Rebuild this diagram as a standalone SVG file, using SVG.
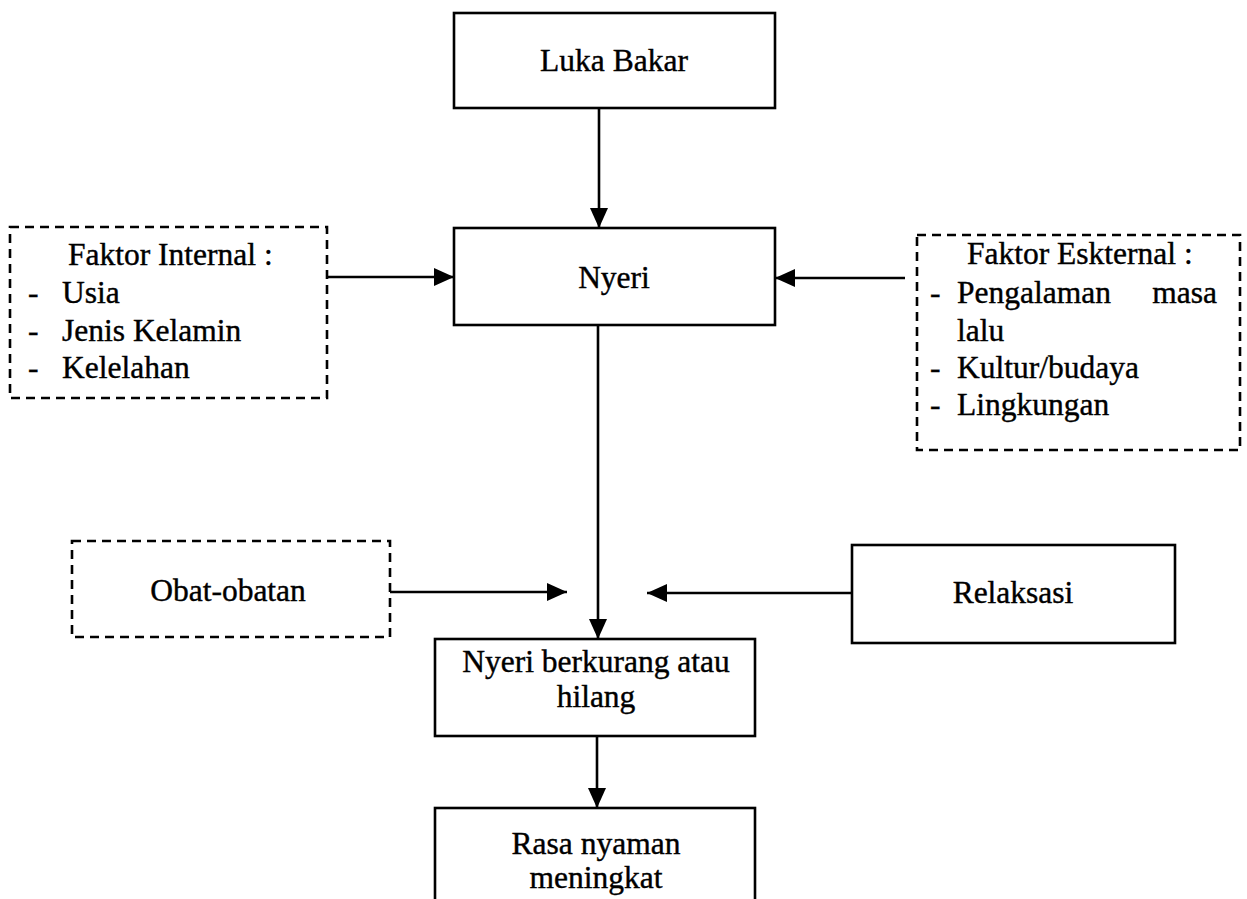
<svg xmlns="http://www.w3.org/2000/svg" width="1247" height="899" viewBox="0 0 1247 899">
<defs>
<style>
.box{fill:#fff;stroke:#000;stroke-width:2.6}
.dbox{fill:#fff;stroke:#000;stroke-width:2.6;stroke-dasharray:9 6}
.t{font-family:"Liberation Serif","Times New Roman",serif;font-size:31.5px;fill:#000;stroke:#000;stroke-width:0.4}
.c{text-anchor:middle}
.ln{stroke:#000;stroke-width:2.6;fill:none}
</style>
<marker id="ah" viewBox="0 0 20 18" refX="20" refY="9" markerWidth="20" markerHeight="18" markerUnits="userSpaceOnUse" orient="auto">
<path d="M0,0 L20,9 L0,18 Z" fill="#000"/>
</marker>
</defs>
<rect width="1247" height="899" fill="#fff"/>
<g id="connectors">
<line class="ln" x1="599" y1="108" x2="599" y2="228" marker-end="url(#ah)"/>
<line class="ln" x1="328" y1="277" x2="454" y2="277" marker-end="url(#ah)"/>
<line class="ln" x1="905" y1="278" x2="775" y2="278" marker-end="url(#ah)"/>
<line class="ln" x1="598" y1="325" x2="598" y2="639" marker-end="url(#ah)"/>
<line class="ln" x1="390" y1="592" x2="567" y2="592" marker-end="url(#ah)"/>
<line class="ln" x1="852" y1="593" x2="647" y2="593" marker-end="url(#ah)"/>
<line class="ln" x1="597" y1="736" x2="597" y2="808" marker-end="url(#ah)"/>
</g>
<g id="luka-bakar">
<rect class="box" x="454" y="13" width="321" height="95"/>
<text class="t c" x="614" y="71">Luka Bakar</text>
</g>
<g id="nyeri">
<rect class="box" x="454" y="228" width="321" height="97"/>
<text class="t c" x="614" y="288">Nyeri</text>
</g>
<g id="faktor-internal">
<rect class="dbox" x="10" y="227" width="317" height="171"/>
<text class="t" x="68" y="265">Faktor Internal :</text>
<text class="t" x="28" y="303">-</text><text class="t" x="62" y="303">Usia</text>
<text class="t" x="28" y="341">-</text><text class="t" x="62" y="341">Jenis Kelamin</text>
<text class="t" x="28" y="378">-</text><text class="t" x="62" y="378">Kelelahan</text>
</g>
<g id="faktor-eksternal">
<rect class="dbox" x="917" y="235" width="323" height="215"/>
<text class="t" x="967" y="264">Faktor Eskternal :</text>
<text class="t" x="930" y="303">-</text><text class="t" x="957" y="303">Pengalaman</text><text class="t" x="1217" y="303" text-anchor="end">masa</text>
<text class="t" x="957" y="341">lalu</text>
<text class="t" x="930" y="378">-</text><text class="t" x="957" y="378">Kultur/budaya</text>
<text class="t" x="930" y="415">-</text><text class="t" x="957" y="415">Lingkungan</text>
</g>
<g id="obat-obatan">
<rect class="dbox" x="72" y="541" width="318" height="96"/>
<text class="t c" x="228" y="601">Obat-obatan</text>
</g>
<g id="relaksasi">
<rect class="box" x="852" y="545" width="323" height="98"/>
<text class="t c" x="1013" y="603">Relaksasi</text>
</g>
<g id="nyeri-berkurang">
<rect class="box" x="435" y="639" width="320" height="97"/>
<text class="t c" x="596" y="672">Nyeri berkurang atau</text>
<text class="t c" x="596" y="707">hilang</text>
</g>
<g id="rasa-nyaman">
<rect class="box" x="435" y="808" width="320" height="120"/>
<text class="t c" x="596" y="854">Rasa nyaman</text>
<text class="t c" x="596" y="888">meningkat</text>
</g>
</svg>
